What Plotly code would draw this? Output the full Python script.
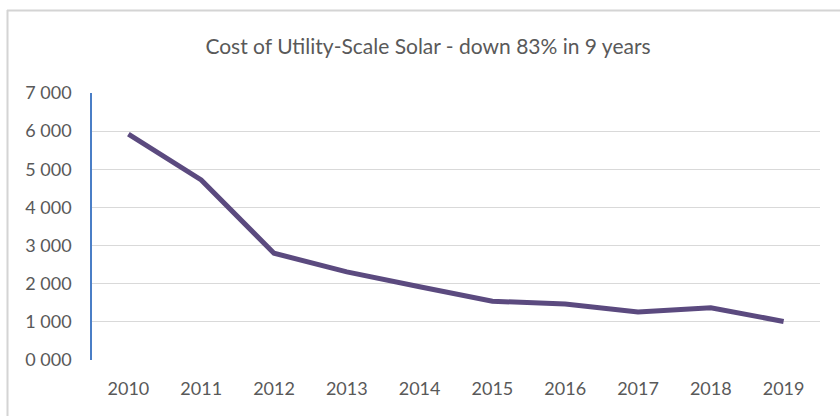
import plotly.graph_objects as go

years = ["2010", "2011", "2012", "2013", "2014", "2015", "2016", "2017", "2018", "2019"]
cost = [5920, 4720, 2800, 2310, 1920, 1540, 1470, 1260, 1370, 1010]
y_ticks = [0, 1000, 2000, 3000, 4000, 5000, 6000, 7000]
y_tick_labels = ["0 000", "1 000", "2 000", "3 000", "4 000", "5 000", "6 000", "7 000"]
title = "Cost of Utility-Scale Solar - down 83% in 9 years"

FONT = "Lato, Carlito, Calibri, 'Open Sans', sans-serif"
TXT = "#595959"

fig = go.Figure()
fig.add_trace(go.Scatter(
    x=years, y=cost, mode="lines",
    line=dict(color="#5B4A7F", width=5),
    hoverinfo="skip",
))

fig.update_layout(
    width=840, height=416,
    margin=dict(l=92, r=20, t=93, b=56, autoexpand=False),
    paper_bgcolor="white", plot_bgcolor="white",
    showlegend=False,
    title=dict(text=title, x=428 / 840, xref="container", xanchor="center",
               y=1 - 47 / 416, yref="container", yanchor="middle",
               font=dict(family=FONT, size=21, color=TXT)),
    font=dict(family=FONT, size=18, color=TXT),
    xaxis=dict(type="category", range=[-0.5, 9.5], showgrid=False, zeroline=False,
               showline=False, automargin=False,
               ticks="", tickfont=dict(size=18, color=TXT), ticklabelstandoff=16),
    yaxis=dict(range=[0, 7000], tickvals=y_ticks, ticktext=y_tick_labels,
               showgrid=True, gridcolor="#D9D9D9", gridwidth=1.2, automargin=False,
               zeroline=False, showline=True, linecolor="#4A7EC6", linewidth=1.5,
               ticks="", tickfont=dict(size=18, color=TXT), ticklabelstandoff=15),
    shapes=[
        dict(type="line", xref="paper", yref="paper", layer="above",
             x0=(7 - 92) / 728, x1=(840 - 92) / 728,
             y0=(360 - 10.5) / 267, y1=(360 - 10.5) / 267,
             line=dict(color="#D4D4D4", width=2)),
        dict(type="line", xref="paper", yref="paper", layer="above",
             x0=(7.5 - 92) / 728, x1=(7.5 - 92) / 728,
             y0=(360 - 10) / 267, y1=(360 - 416) / 267,
             line=dict(color="#D4D4D4", width=2)),
    ],
)

fig.write_html("out.html", config={"displayModeBar": False},
               post_script="document.body.style.margin='0';document.body.style.overflow='hidden';")
